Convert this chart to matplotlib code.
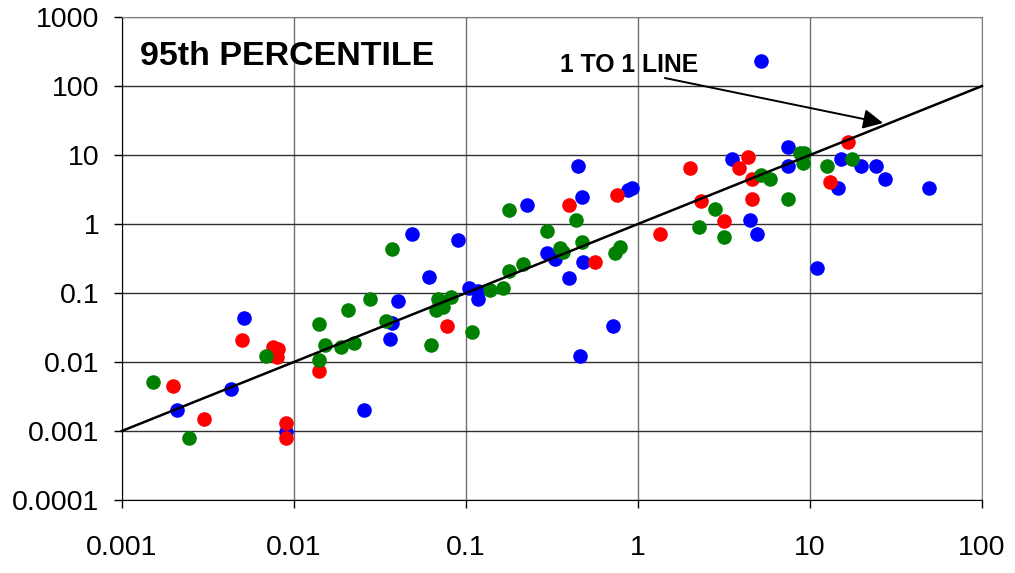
import matplotlib

matplotlib.use('Agg')
import matplotlib.pyplot as plt

plt.rcParams['font.family'] = ['Liberation Sans', 'DejaVu Sans']

# blue series
blue_x = [0.00209, 0.00512, 0.00434, 0.00898, 0.0256, 0.0401, 0.0371, 0.0361, 0.0487, 0.0607,
          0.0895, 0.1045, 0.1174, 0.1174, 0.226, 0.298, 0.329, 0.450, 0.471, 0.482,
          0.397, 0.713, 0.462, 0.879, 0.919, 5.19, 3.51, 7.50, 7.48, 4.48,
          4.94, 11.03, 14.5, 15.1, 19.9, 24.2, 27.3, 49.2]
blue_y = [0.00204, 0.0439, 0.00402, 0.000977, 0.00204, 0.0773, 0.0371, 0.0213, 0.709, 0.172,
          0.586, 0.120, 0.108, 0.0813, 1.884, 0.380, 0.316, 6.93, 2.44, 0.284,
          0.163, 0.0333, 0.01222, 3.16, 3.38, 230.0, 8.84, 13.06, 7.0, 1.154,
          0.709, 0.233, 3.29, 8.84, 7.0, 7.0, 4.49, 3.29]

# red series
red_x = [0.00199, 0.0030, 0.0050, 0.00755, 0.00804, 0.00796, 0.00898, 0.00898, 0.01392, 0.0776,
         0.397, 0.562, 0.751, 1.339, 2.0, 2.315, 3.18, 3.87, 4.36, 4.60,
         4.60, 13.07, 16.7]
red_y = [0.00454, 0.00149, 0.0208, 0.01667, 0.01543, 0.0118, 0.00132, 0.0008, 0.00741, 0.0333,
         1.884, 0.284, 2.61, 0.705, 6.55, 2.154, 1.094, 6.55, 9.35, 4.49,
         2.28, 4.02, 15.5]

# green series
green_x = [0.00151, 0.00246, 0.00685, 0.01392, 0.01397, 0.01514, 0.01876, 0.02224, 0.02066, 0.0277,
           0.0345, 0.0371, 0.0624, 0.0669, 0.0740, 0.0688, 0.0815, 0.109, 0.1388, 0.1652,
           0.1774, 0.2154, 0.177, 0.2966, 0.352, 0.368, 0.439, 0.4707, 0.735, 0.791,
           2.254, 2.815, 3.18, 5.19, 5.85, 7.48, 8.75, 9.23, 9.07, 12.5,
           17.6]
green_y = [0.00508, 0.0008, 0.0121, 0.0352, 0.01076, 0.01763, 0.01649, 0.0187, 0.0571, 0.0818,
           0.0393, 0.430, 0.0178, 0.0563, 0.0633, 0.0813, 0.0884, 0.0272, 0.1105, 0.120,
           0.210, 0.263, 1.595, 0.80, 0.442, 0.389, 1.154, 0.554, 0.380, 0.461,
           0.914, 1.666, 0.655, 5.13, 4.49, 2.28, 10.8, 10.6, 7.58, 7.0,
           8.84]

one_to_one = [0.001, 100]
x_ticks = [0.001, 0.01, 0.1, 1, 10, 100]
x_labels = ['0.001', '0.01', '0.1', '1', '10', '100']
y_ticks = [0.0001, 0.001, 0.01, 0.1, 1, 10, 100, 1000]
y_labels = ['0.0001', '0.001', '0.01', '0.1', '1', '10', '100', '1000']

fig = plt.figure(figsize=(10.15, 5.73), dpi=100)
ax = fig.add_axes([0.120, 0.1274, 0.8475, 0.8429])

ax.set_xscale('log')
ax.set_yscale('log')
ax.set_xlim(0.001, 100)
ax.set_ylim(0.0001, 1000)

# horizontal lines darker than the vertical ones
ax.yaxis.grid(True, which='major', color='#303030', linewidth=1.0)
ax.xaxis.grid(True, which='major', color='#707070', linewidth=1.0)
ax.set_axisbelow(True)

ms = 10.5
ax.plot(blue_x, blue_y, 'o', color='#0000ff', markersize=ms, markeredgewidth=0, zorder=3)
ax.plot(red_x, red_y, 'o', color='#ff0000', markersize=ms, markeredgewidth=0, zorder=3)
ax.plot(green_x, green_y, 'o', color='#008000', markersize=ms, markeredgewidth=0, zorder=3)

ax.plot(one_to_one, one_to_one, color='black', linewidth=1.8, zorder=4, clip_on=False)

ax.set_xticks(x_ticks)
ax.set_xticklabels(x_labels)
ax.set_yticks(y_ticks)
ax.set_yticklabels(y_labels)
ax.minorticks_off()
ax.tick_params(axis='both', which='major', direction='out', length=6, width=1,
               labelsize=20.5, color='black')
ax.tick_params(axis='x', pad=19)
ax.tick_params(axis='y', pad=10)

for side in ['top', 'right']:
    ax.spines[side].set_color('#808080')
for side in ['left', 'bottom']:
    ax.spines[side].set_color('black')

ax.text(0.021, 0.9006, '95th PERCENTILE', transform=ax.transAxes, fontsize=24.5,
        fontweight='bold', ha='left', va='baseline')
ax.text(0.509, 0.886, '1 TO 1 LINE', transform=ax.transAxes, fontsize=17.8,
        fontweight='bold', ha='left', va='baseline')

ax.annotate('', xy=(26.6, 29.1), xytext=(1.435, 130.6),
            arrowprops=dict(arrowstyle='-|>', mutation_scale=30, lw=1.4, color='black',
                            shrinkA=0, shrinkB=0), zorder=5)

fig.savefig('out.png', dpi=100)
